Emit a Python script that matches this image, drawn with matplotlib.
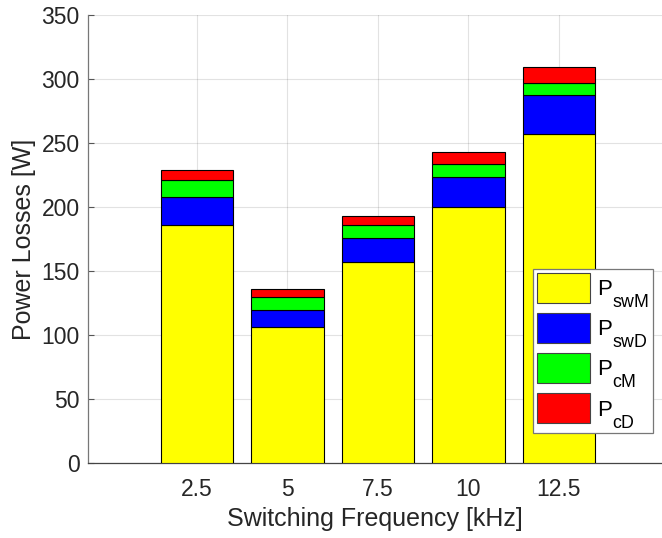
import matplotlib
matplotlib.use("Agg")
import matplotlib.pyplot as plt
import matplotlib._mathtext as mathtext_internal
import numpy as np

plt.rcParams["font.family"] = ["Liberation Sans", "DejaVu Sans"]
plt.rcParams["mathtext.fontset"] = "custom"
plt.rcParams["mathtext.rm"] = "Liberation Sans"
plt.rcParams["mathtext.it"] = "Liberation Sans"

# bigger, lower subscripts like the MATLAB tex interpreter
mathtext_internal.SHRINK_FACTOR = 0.8
mathtext_internal.FontConstantsBase.sub1 = 1.0

# Switching frequency [kHz] and loss components [W].
freq = [2.5, 5, 7.5, 10, 12.5]
p_swM = [185.7, 106.5, 157.0, 199.7, 257.3]
p_swD = [22.1, 12.8, 18.8, 23.5, 30.2]
p_cM = [13.5, 10.6, 9.9, 10.1, 9.1]
p_cD = [7.4, 5.8, 7.5, 9.4, 12.5]

series = [p_swM, p_swD, p_cM, p_cD]
labels = [r"P$_{\mathrm{swM}}$", r"P$_{\mathrm{swD}}$",
          r"P$_{\mathrm{cM}}$", r"P$_{\mathrm{cD}}$"]
colors = ["#ffff00", "#0000ff", "#00ff00", "#ff0000"]

TXT = "#262626"

fig = plt.figure(figsize=(6.62, 5.38), dpi=100)
ax = fig.add_axes([88 / 662, 1 - 463 / 538, 574 / 662, 448 / 538])

bottom = np.zeros(len(freq))
for vals, lab, col in zip(series, labels, colors):
    ax.bar(freq, vals, width=2.0, bottom=bottom, color=col,
           edgecolor="black", linewidth=0.8, label=lab, zorder=3)
    bottom += np.array(vals)

ax.set_xlim(-0.51, 15.35)
ax.set_ylim(0, 350)
ax.set_xticks(freq)
ax.set_xticklabels(["2.5", "5", "7.5", "10", "12.5"])
ax.set_yticks(np.arange(0, 351, 50))

ax.grid(True, color="#262626", alpha=0.13, linewidth=0.8, zorder=0)
ax.set_axisbelow(True)
for side in ("top", "right"):
    ax.spines[side].set_visible(False)
ax.spines["left"].set_color("#777777")
ax.spines["bottom"].set_color("#444444")
for side in ("left", "bottom"):
    ax.spines[side].set_linewidth(0.9)
ax.tick_params(direction="in", length=4, width=0.8, color="#555555",
               labelsize=16.5, labelcolor=TXT)
ax.tick_params(axis="x", pad=11)
ax.tick_params(axis="y", pad=6)

ax.set_xlabel("Switching Frequency [kHz]", fontsize=18, color=TXT, labelpad=4)
ax.set_ylabel("Power Losses [W]", fontsize=18, color=TXT, labelpad=4)

leg = ax.legend(loc="upper left", bbox_to_anchor=(0.775, 0.433),
                fontsize=16, fancybox=False, framealpha=1,
                edgecolor="#777777", handlelength=2.4, handleheight=1.7,
                labelspacing=0.18, handletextpad=0.3, borderpad=0.17,
                borderaxespad=0)
leg.get_frame().set_linewidth(0.9)
for t in leg.get_texts():
    t.set_color("black")
for h in leg.legend_handles:
    h.set_edgecolor("#444444")

fig.savefig("out.png", dpi=100, facecolor="white")
